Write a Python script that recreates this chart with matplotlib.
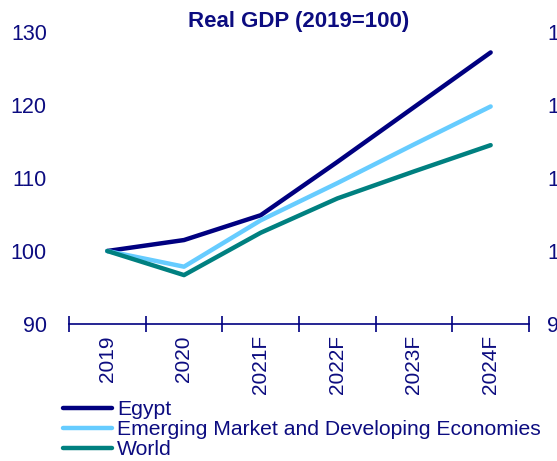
import matplotlib
matplotlib.use("Agg")
import matplotlib.pyplot as plt
import numpy as np

plt.rcParams['font.family'] = ['Liberation Sans', 'DejaVu Sans']

years = ['2019', '2020', '2021F', '2022F', '2023F', '2024F']
egypt = [100, 101.5, 104.9, 112.2, 119.7, 127.2]
emde = [100, 97.85, 104.2, 109.3, 114.6, 119.8]
world = [100, 96.7, 102.5, 107.2, 110.9, 114.5]

navy = '#000080'
light = '#66CCFF'
teal = '#008080'
txt = '#0c0c80'

fig = plt.figure(figsize=(5.57, 4.61), dpi=100)
ax = fig.add_axes([69/557, 137/461, 460/557, 292/461])

x = np.arange(len(years))
ax.plot(x, egypt, color=navy, lw=3.2, label='Egypt', solid_capstyle='round')
ax.plot(x, emde, color=light, lw=3.2, label='Emerging Market and Developing Economies', solid_capstyle='round')
ax.plot(x, world, color=teal, lw=3.2, label='World', solid_capstyle='round')

ax.set_xlim(-0.5, len(years) - 0.5)
ax.set_ylim(90, 130)
ax.set_yticks([90, 100, 110, 120, 130])

for s in ['top', 'left', 'right']:
    ax.spines[s].set_visible(False)
ax.spines['bottom'].set_color(navy)
ax.spines['bottom'].set_linewidth(1.2)

ax.set_xticks(x)
ax.set_xticklabels(years, rotation=90, fontsize=15, color=txt)
ax.set_xticks(np.arange(len(years) + 1) - 0.5, minor=True)
ax.tick_params(axis='x', which='major', length=0, pad=8)
ax.tick_params(axis='x', which='minor', length=12, direction='inout', color=navy, width=1.2)
ax.tick_params(axis='y', length=0, pad=16, labelsize=15.5, labelcolor=txt)

# right-hand axis, labels run off the figure edge as in the source
ax2 = ax.twinx()
ax2.set_ylim(90, 130)
ax2.set_yticks([90, 100, 110, 120, 130])
for s in ['top', 'left', 'right', 'bottom']:
    ax2.spines[s].set_visible(False)
ax2.tick_params(axis='y', length=0, pad=13, labelsize=15.5, labelcolor=txt)

fig.text(299/557, 1 - 21.5/461, 'Real GDP (2019=100)', fontsize=16, fontweight='bold',
         color=txt, ha='center', va='center')

fig.legend(loc='upper left', bbox_to_anchor=(63/557, 1 - 400/461), frameon=False,
           fontsize=15.2, handlelength=2.3, handletextpad=0.25, labelspacing=0.05,
           borderaxespad=0, borderpad=0, labelcolor=txt)

fig.savefig('out.png', dpi=100)
